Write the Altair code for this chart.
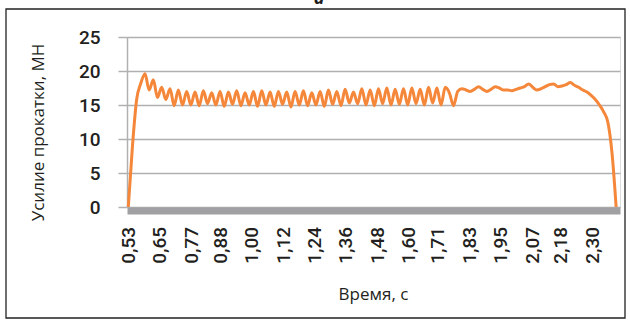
import altair as alt
import pandas as pd

# Rolling force, MN, sampled at a constant step starting at 0.53 s
t_start = 0.53
t_step = 0.0159
force = [
    0.0, 9.0, 15.8, 18.2, 19.6, 17.2, 18.7, 16.1, 17.6, 15.8,
    17.4, 14.9, 17.2, 15.0, 17.0, 15.0, 16.9, 14.9, 17.1, 15.2,
    16.8, 15.0, 17.0, 14.8, 16.9, 15.1, 17.1, 14.9, 16.8, 15.0,
    17.0, 14.8, 17.1, 15.0, 16.9, 14.8, 17.0, 15.1, 16.9, 14.7,
    17.0, 15.0, 17.1, 14.9, 16.8, 15.0, 17.0, 14.8, 17.2, 15.1,
    17.0, 14.9, 17.3, 15.3, 16.9, 15.2, 17.4, 15.0, 17.2, 14.9,
    17.4, 15.2, 17.5, 15.0, 17.3, 15.1, 17.4, 15.0, 17.5, 15.2,
    17.3, 15.0, 17.6, 15.3, 17.5, 15.0, 17.6, 16.8, 14.9, 17.0,
    17.4, 17.2, 17.0, 17.3, 17.7, 17.3, 17.0, 17.3, 17.7, 17.5,
    17.2, 17.2, 17.1, 17.3, 17.5, 17.7, 18.1, 17.6, 17.2, 17.4,
    17.7, 18.0, 18.1, 17.7, 17.8, 18.0, 18.3, 17.9, 17.6, 17.2,
    16.9, 16.4, 15.8, 15.0, 14.0, 12.5, 8.0, 0.0,
]
time = [round(t_start + t_step * i, 4) for i in range(len(force))]

x_ticks = [0.53, 0.65, 0.77, 0.88, 1.00, 1.12, 1.24, 1.36, 1.48,
           1.60, 1.71, 1.83, 1.95, 2.07, 2.18, 2.30]
y_ticks = [0, 5, 10, 15, 20, 25]

df = pd.DataFrame({"t": time, "f": force})

label_font = "Roboto"
title_font = "Open Sans"

line = alt.Chart(df).mark_line(
    color="#F5873A", strokeWidth=3, strokeJoin="round", interpolate="monotone"
).encode(
    x=alt.X("t:Q",
            scale=alt.Scale(domain=[0.525, 2.405], nice=False, zero=False),
            axis=alt.Axis(
                values=x_ticks,
                labelExpr="replace(format(datum.value, '.2f'), '.', ',')",
                labelAngle=-90,
                labelFont=label_font, labelFontSize=19, labelFontWeight=500,
                labelColor="#231f20",
                labelPadding=16, labelOverlap=False, labelFlush=False,
                ticks=False, grid=False,
                domainColor="#A0A0A2", domainWidth=7, offset=3.5,
                title="Время, с", titleFont=title_font, titleFontSize=17,
                titleFontWeight="normal", titleColor="#231f20",
                titleX=246, titleY=84, titleBaseline="middle", titleAlign="center",
            )),
    y=alt.Y("f:Q",
            scale=alt.Scale(domain=[0, 25], nice=False),
            axis=alt.Axis(
                values=y_ticks,
                labelFont=label_font, labelFontSize=19, labelFontWeight=500,
                labelColor="#231f20",
                labelPadding=18,
                tickSize=9, tickColor="#B0B0B0", tickWidth=1.5,
                domainColor="#B0B0B0", domainWidth=1.5,
                grid=True, gridColor="#B0B0B0", gridWidth=1.5,
                title="Усилие прокатки, МН", titleFont=title_font, titleFontSize=17,
                titleFontWeight="normal", titleColor="#231f20",
                titleX=-89, titleY=95, titleAngle=-90,
                titleBaseline="middle", titleAlign="center",
            )),
)

frame = alt.Chart(alt.Data(values=[{}])).mark_rect(
    fillOpacity=0, stroke="#222222", strokeWidth=1.3
).encode(
    x=alt.value(-121), x2=alt.value(498), y=alt.value(-28), y2=alt.value(281)
)

caption = alt.Chart(alt.Data(values=[{}])).mark_text(
    text="а", font=title_font, fontSize=18, fontStyle="italic", fontWeight="bold",
    color="#231f20", align="center", baseline="alphabetic"
).encode(x=alt.value(192), y=alt.value(-33))

chart = alt.layer(frame, line, caption).properties(
    width=493, height=170,
    autosize=alt.AutoSizeParams(type="none"),
    padding={"left": 127, "top": 37, "right": 10, "bottom": 114},
).configure_view(stroke=None).configure(background="white")

chart.save("out.html", embed_options={"renderer": "svg", "actions": False})
